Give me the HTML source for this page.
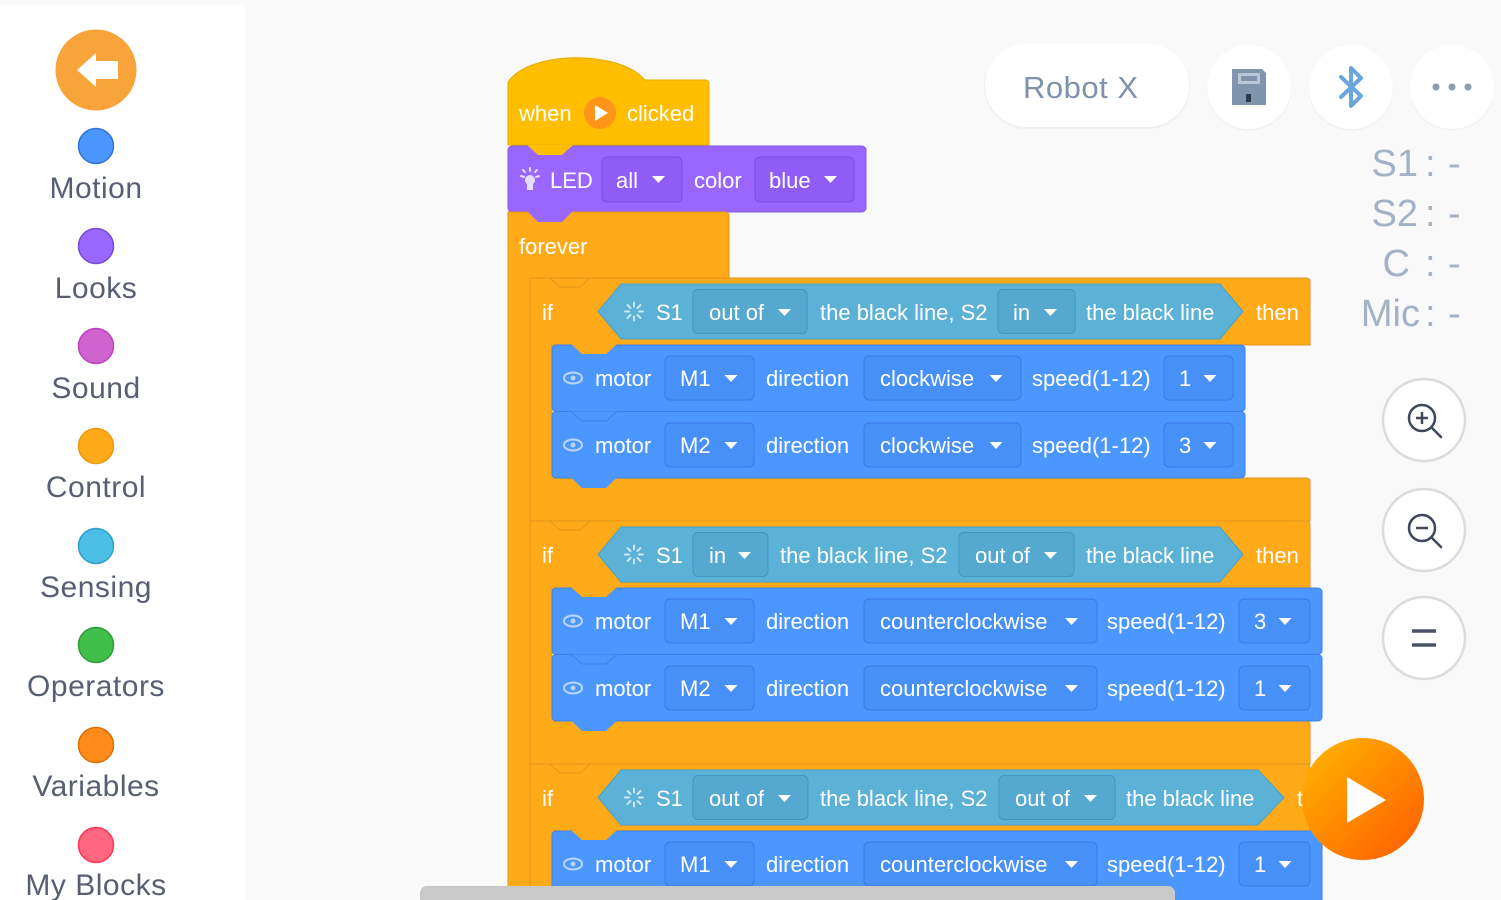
<!DOCTYPE html>
<html>
<head>
<meta charset="utf-8">
<style>
  html,body{margin:0;padding:0;background:#f9f9f9;}
  body{width:1501px;height:900px;overflow:hidden;position:relative;}
  svg{position:absolute;left:0;top:0;}
  .t{font-family:"Liberation Sans",Arial,sans-serif;font-size:22px;fill:#ffffff;}
  .side{font-family:"Liberation Sans",Arial,sans-serif;font-size:30px;fill:#585f72;letter-spacing:0.5px;}
  .stat{font-family:"Liberation Sans",Arial,sans-serif;font-size:38px;fill:#a3b2c4;}
</style>
</head>
<body>
<svg width="1501" height="900" viewBox="0 0 1501 900" xmlns="http://www.w3.org/2000/svg">
  <defs>
    <linearGradient id="pg" x1="0" y1="0" x2="1" y2="1">
      <stop offset="0" stop-color="#ffb800"/>
      <stop offset="1" stop-color="#ff5a00"/>
    </linearGradient>
  </defs>
  <!-- background -->
  <rect x="0" y="0" width="1501" height="900" fill="#f9f9f9"/>
  <!-- sidebar -->
  <rect x="0" y="5" width="245" height="895" fill="#ffffff"/>

  <!-- back button -->
  <circle cx="96" cy="70" r="40.5" fill="#f9a33b"/>
  <polygon points="77,70 96,53 96,87" fill="#ffffff"/>
  <rect x="94" y="61" width="24" height="18" fill="#ffffff"/>

  <!-- categories -->
  <circle cx="96" cy="146" r="17.5" fill="#4c97ff" stroke="#3373cc" stroke-width="1.5"/>
  <text class="side" x="96" y="198" text-anchor="middle">Motion</text>
  <circle cx="96" cy="246" r="17.5" fill="#9966ff" stroke="#774dcb" stroke-width="1.5"/>
  <text class="side" x="96" y="298" text-anchor="middle">Looks</text>
  <circle cx="96" cy="346" r="17.5" fill="#cf63cf" stroke="#bd42bd" stroke-width="1.5"/>
  <text class="side" x="96" y="398" text-anchor="middle">Sound</text>
  <circle cx="96" cy="446" r="17.5" fill="#ffab19" stroke="#e89a14" stroke-width="1.5"/>
  <text class="side" x="96" y="497" text-anchor="middle">Control</text>
  <circle cx="96" cy="546" r="17.5" fill="#4cbfe6" stroke="#2e9ec4" stroke-width="1.5"/>
  <text class="side" x="96" y="597" text-anchor="middle">Sensing</text>
  <circle cx="96" cy="645" r="17.5" fill="#40bf4a" stroke="#2f9a38" stroke-width="1.5"/>
  <text class="side" x="96" y="696" text-anchor="middle">Operators</text>
  <circle cx="96" cy="745" r="17.5" fill="#ff8c1a" stroke="#db6e00" stroke-width="1.5"/>
  <text class="side" x="96" y="796" text-anchor="middle">Variables</text>
  <circle cx="96" cy="845" r="17.5" fill="#ff6680" stroke="#ff3355" stroke-width="1.5"/>
  <text class="side" x="96" y="895" text-anchor="middle">My Blocks</text>

  <!-- ===== Hat block ===== -->
  <path d="M508,82 C530,50 620,50 645,80 L705,80 Q709,80 709,84 L709,145 L508,145 Z" fill="#ffbf00" stroke="#e6ab00" stroke-width="1"/>
  <text class="t" x="519" y="121">when</text>
  <circle cx="600" cy="113" r="16" fill="#ff9419"/>
  <polygon points="595,105 595,121 608,113" fill="#ffffff"/>
  <text class="t" x="627" y="121">clicked</text>

  <!-- ===== LED block ===== -->
  <rect x="508" y="146" width="358" height="66" rx="4" fill="#9966ff" stroke="#855cd6" stroke-width="1"/>
  <polygon points="527,145 538,155 562,155 573,145" fill="#ffbf00"/>
  <g stroke="#e8ddff" stroke-width="2" stroke-linecap="round">
    <line x1="530" y1="168" x2="530" y2="171"/>
    <line x1="521" y1="176" x2="524" y2="177"/>
    <line x1="539" y1="176" x2="536" y2="177"/>
    <line x1="523" y1="170" x2="525" y2="172"/>
    <line x1="537" y1="170" x2="535" y2="172"/>
  </g>
  <circle cx="530" cy="180" r="5" fill="#e8ddff"/>
  <rect x="527" y="184" width="6" height="6" fill="#e8ddff"/>
  <text class="t" x="550" y="188">LED</text>
  <rect x="602" y="157" width="80" height="45" rx="5" fill="#8f5cf7" stroke="#7a4fd9" stroke-width="1"/>
  <text class="t" x="616" y="188">all</text>
  <polygon points="652,176 665,176 658.5,183" fill="#ffffff"/>
  <text class="t" x="694" y="188">color</text>
  <rect x="755" y="157" width="99" height="45" rx="5" fill="#8f5cf7" stroke="#7a4fd9" stroke-width="1"/>
  <text class="t" x="769" y="188">blue</text>
  <polygon points="824,176 837,176 830.5,183" fill="#ffffff"/>

  <!-- ===== forever block ===== -->
  <path d="M508,212 H725 Q729,212 729,216 V278 H530 V910 H508 Z" fill="#ffab19" stroke="#e3951a" stroke-width="1"/>
  <polygon points="527,211 538,222 562,222 573,211" fill="#9966ff"/>
  <text class="t" x="519" y="254">forever</text>

  <!-- ===== if #1 ===== -->
  <path d="M530,278 H1306 Q1310,278 1310,282 V345 H552 V478 H1306 Q1310,478 1310,482 V521 H530 Z" fill="#ffab19" stroke="#e3951a" stroke-width="1"/>
  <polyline points="530,278 550,278 560,287 580,287 590,278" fill="none" stroke="#e3951a" stroke-width="1"/>
  <text class="t" x="542" y="320">if</text>
  <polygon points="598,311.5 621,284 1220,284 1243,311.5 1220,339 621,339" fill="#5cb1d6" stroke="#4a9fc6" stroke-width="1"/>
  <g transform="translate(634,311.5)" stroke="#cbe8f5" stroke-width="2" stroke-linecap="round">
    <line x1="0" y1="-9" x2="0" y2="-5"/><line x1="0" y1="9" x2="0" y2="5"/>
    <line x1="-9" y1="0" x2="-5" y2="0"/><line x1="9" y1="0" x2="5" y2="0"/>
    <line x1="-6.5" y1="-6.5" x2="-3.5" y2="-3.5"/><line x1="6.5" y1="6.5" x2="3.5" y2="3.5"/>
    <line x1="-6.5" y1="6.5" x2="-3.5" y2="3.5"/><line x1="6.5" y1="-6.5" x2="3.5" y2="-3.5"/>
  </g>
  <text class="t" x="656" y="320">S1</text>
  <rect x="693" y="289.5" width="114" height="44" rx="5" fill="#55a9d0" stroke="#3f96bf" stroke-width="1"/>
  <text class="t" x="709" y="320">out of</text>
  <polygon points="778,309 791,309 784.5,316" fill="#ffffff"/>
  <text class="t" x="820" y="320">the black line, S2</text>
  <rect x="998" y="289.5" width="77" height="44" rx="5" fill="#55a9d0" stroke="#3f96bf" stroke-width="1"/>
  <text class="t" x="1013" y="320">in</text>
  <polygon points="1044,309 1057,309 1050.5,316" fill="#ffffff"/>
  <text class="t" x="1086" y="320">the black line</text>
  <text class="t" x="1256" y="320">then</text>

  <!-- motors if#1 -->
  <rect x="552" y="345" width="693" height="66.5" rx="4" fill="#4c97ff" stroke="#3d80e6" stroke-width="1"/>
  <rect x="552" y="411.5" width="693" height="66.5" rx="4" fill="#4c97ff" stroke="#3d80e6" stroke-width="1"/>
  <polygon points="571,344 582,354 606,354 617,344" fill="#ffab19"/>
  <polyline points="571,411.5 582,421 606,421 617,411.5" fill="#4c97ff" stroke="#3d80e6" stroke-width="1"/>
  <polygon points="571,477.5 582,488 606,488 617,477.5" fill="#4c97ff"/>

  <!-- ===== if #2 ===== -->
  <path d="M530,521 H1306 Q1310,521 1310,525 V588 H552 V721 H1306 Q1310,721 1310,725 V764 H530 Z" fill="#ffab19" stroke="#e3951a" stroke-width="1"/>
  <polyline points="530,521 550,521 560,530 580,530 590,521" fill="none" stroke="#e3951a" stroke-width="1"/>
  <text class="t" x="542" y="563">if</text>
  <polygon points="598,554.5 621,527 1220,527 1243,554.5 1220,582 621,582" fill="#5cb1d6" stroke="#4a9fc6" stroke-width="1"/>
  <g transform="translate(634,554.5)" stroke="#cbe8f5" stroke-width="2" stroke-linecap="round">
    <line x1="0" y1="-9" x2="0" y2="-5"/><line x1="0" y1="9" x2="0" y2="5"/>
    <line x1="-9" y1="0" x2="-5" y2="0"/><line x1="9" y1="0" x2="5" y2="0"/>
    <line x1="-6.5" y1="-6.5" x2="-3.5" y2="-3.5"/><line x1="6.5" y1="6.5" x2="3.5" y2="3.5"/>
    <line x1="-6.5" y1="6.5" x2="-3.5" y2="3.5"/><line x1="6.5" y1="-6.5" x2="3.5" y2="-3.5"/>
  </g>
  <text class="t" x="656" y="563">S1</text>
  <rect x="693" y="532.5" width="75" height="44" rx="5" fill="#55a9d0" stroke="#3f96bf" stroke-width="1"/>
  <text class="t" x="709" y="563">in</text>
  <polygon points="738,552 751,552 744.5,559" fill="#ffffff"/>
  <text class="t" x="780" y="563">the black line, S2</text>
  <rect x="959" y="532.5" width="115" height="44" rx="5" fill="#55a9d0" stroke="#3f96bf" stroke-width="1"/>
  <text class="t" x="975" y="563">out of</text>
  <polygon points="1044,552 1057,552 1050.5,559" fill="#ffffff"/>
  <text class="t" x="1086" y="563">the black line</text>
  <text class="t" x="1256" y="563">then</text>

  <!-- motors if#2 -->
  <rect x="552" y="588" width="770" height="66.5" rx="4" fill="#4c97ff" stroke="#3d80e6" stroke-width="1"/>
  <rect x="552" y="654.5" width="770" height="66.5" rx="4" fill="#4c97ff" stroke="#3d80e6" stroke-width="1"/>
  <polygon points="571,587 582,597 606,597 617,587" fill="#ffab19"/>
  <polyline points="571,654.5 582,664 606,664 617,654.5" fill="#4c97ff" stroke="#3d80e6" stroke-width="1"/>
  <polygon points="571,720.5 582,731 606,731 617,720.5" fill="#4c97ff"/>

  <!-- ===== if #3 ===== -->
  <path d="M530,764 H1306 Q1310,764 1310,768 V831 H552 V910 H530 Z" fill="#ffab19" stroke="#e3951a" stroke-width="1"/>
  <polyline points="530,764 550,764 560,773 580,773 590,764" fill="none" stroke="#e3951a" stroke-width="1"/>
  <text class="t" x="542" y="806">if</text>
  <polygon points="598,797.5 621,770 1258,770 1284,797.5 1258,825 621,825" fill="#5cb1d6" stroke="#4a9fc6" stroke-width="1"/>
  <g transform="translate(634,797.5)" stroke="#cbe8f5" stroke-width="2" stroke-linecap="round">
    <line x1="0" y1="-9" x2="0" y2="-5"/><line x1="0" y1="9" x2="0" y2="5"/>
    <line x1="-9" y1="0" x2="-5" y2="0"/><line x1="9" y1="0" x2="5" y2="0"/>
    <line x1="-6.5" y1="-6.5" x2="-3.5" y2="-3.5"/><line x1="6.5" y1="6.5" x2="3.5" y2="3.5"/>
    <line x1="-6.5" y1="6.5" x2="-3.5" y2="3.5"/><line x1="6.5" y1="-6.5" x2="3.5" y2="-3.5"/>
  </g>
  <text class="t" x="656" y="806">S1</text>
  <rect x="693" y="775.5" width="115" height="44" rx="5" fill="#55a9d0" stroke="#3f96bf" stroke-width="1"/>
  <text class="t" x="709" y="806">out of</text>
  <polygon points="778,795 791,795 784.5,802" fill="#ffffff"/>
  <text class="t" x="820" y="806">the black line, S2</text>
  <rect x="999" y="775.5" width="116" height="44" rx="5" fill="#55a9d0" stroke="#3f96bf" stroke-width="1"/>
  <text class="t" x="1015" y="806">out of</text>
  <polygon points="1084,795 1097,795 1090.5,802" fill="#ffffff"/>
  <text class="t" x="1126" y="806">the black line</text>
  <text class="t" x="1297" y="806">then</text>

  <!-- motor if#3 -->
  <rect x="552" y="831" width="770" height="80" rx="4" fill="#4c97ff" stroke="#3d80e6" stroke-width="1"/>
  <polygon points="571,830 582,840 606,840 617,830" fill="#ffab19"/>

  <!-- ===== motor row contents ===== -->
  <!-- row 1: cy 378 -->
  <g>
    <ellipse cx="573" cy="378" rx="9" ry="5.5" fill="none" stroke="#bcd6fb" stroke-width="2"/>
    <circle cx="573" cy="378" r="2.5" fill="#bcd6fb"/>
    <text class="t" x="595" y="386">motor</text>
    <rect x="665" y="356" width="89" height="44" rx="5" fill="#4790f8" stroke="#3a7be0" stroke-width="1"/>
    <text class="t" x="680" y="386">M1</text>
    <polygon points="724.5,375 737.5,375 731,382" fill="#ffffff"/>
    <text class="t" x="766" y="386">direction</text>
    <rect x="864" y="356" width="157" height="44" rx="5" fill="#4790f8" stroke="#3a7be0" stroke-width="1"/>
    <text class="t" x="880" y="386">clockwise</text>
    <polygon points="989.5,375 1002.5,375 996,382" fill="#ffffff"/>
    <text class="t" x="1032" y="386">speed(1-12)</text>
    <rect x="1164" y="356" width="69" height="44" rx="5" fill="#4790f8" stroke="#3a7be0" stroke-width="1"/>
    <text class="t" x="1179" y="386">1</text>
    <polygon points="1203.5,375 1216.5,375 1210,382" fill="#ffffff"/>
  </g>
  <!-- row 2: cy 445 -->
  <g>
    <ellipse cx="573" cy="445" rx="9" ry="5.5" fill="none" stroke="#bcd6fb" stroke-width="2"/>
    <circle cx="573" cy="445" r="2.5" fill="#bcd6fb"/>
    <text class="t" x="595" y="453">motor</text>
    <rect x="665" y="423" width="89" height="44" rx="5" fill="#4790f8" stroke="#3a7be0" stroke-width="1"/>
    <text class="t" x="680" y="453">M2</text>
    <polygon points="724.5,442 737.5,442 731,449" fill="#ffffff"/>
    <text class="t" x="766" y="453">direction</text>
    <rect x="864" y="423" width="157" height="44" rx="5" fill="#4790f8" stroke="#3a7be0" stroke-width="1"/>
    <text class="t" x="880" y="453">clockwise</text>
    <polygon points="989.5,442 1002.5,442 996,449" fill="#ffffff"/>
    <text class="t" x="1032" y="453">speed(1-12)</text>
    <rect x="1164" y="423" width="69" height="44" rx="5" fill="#4790f8" stroke="#3a7be0" stroke-width="1"/>
    <text class="t" x="1179" y="453">3</text>
    <polygon points="1203.5,442 1216.5,442 1210,449" fill="#ffffff"/>
  </g>
  <!-- row 3: cy 621 -->
  <g>
    <ellipse cx="573" cy="621" rx="9" ry="5.5" fill="none" stroke="#bcd6fb" stroke-width="2"/>
    <circle cx="573" cy="621" r="2.5" fill="#bcd6fb"/>
    <text class="t" x="595" y="629">motor</text>
    <rect x="665" y="599" width="89" height="44" rx="5" fill="#4790f8" stroke="#3a7be0" stroke-width="1"/>
    <text class="t" x="680" y="629">M1</text>
    <polygon points="724.5,618 737.5,618 731,625" fill="#ffffff"/>
    <text class="t" x="766" y="629">direction</text>
    <rect x="864" y="599" width="233" height="44" rx="5" fill="#4790f8" stroke="#3a7be0" stroke-width="1"/>
    <text class="t" x="880" y="629">counterclockwise</text>
    <polygon points="1065,618 1078,618 1071.5,625" fill="#ffffff"/>
    <text class="t" x="1107" y="629">speed(1-12)</text>
    <rect x="1239" y="599" width="71" height="44" rx="5" fill="#4790f8" stroke="#3a7be0" stroke-width="1"/>
    <text class="t" x="1254" y="629">3</text>
    <polygon points="1278.5,618 1291.5,618 1285,625" fill="#ffffff"/>
  </g>
  <!-- row 4: cy 688 -->
  <g>
    <ellipse cx="573" cy="688" rx="9" ry="5.5" fill="none" stroke="#bcd6fb" stroke-width="2"/>
    <circle cx="573" cy="688" r="2.5" fill="#bcd6fb"/>
    <text class="t" x="595" y="696">motor</text>
    <rect x="665" y="666" width="89" height="44" rx="5" fill="#4790f8" stroke="#3a7be0" stroke-width="1"/>
    <text class="t" x="680" y="696">M2</text>
    <polygon points="724.5,685 737.5,685 731,692" fill="#ffffff"/>
    <text class="t" x="766" y="696">direction</text>
    <rect x="864" y="666" width="233" height="44" rx="5" fill="#4790f8" stroke="#3a7be0" stroke-width="1"/>
    <text class="t" x="880" y="696">counterclockwise</text>
    <polygon points="1065,685 1078,685 1071.5,692" fill="#ffffff"/>
    <text class="t" x="1107" y="696">speed(1-12)</text>
    <rect x="1239" y="666" width="71" height="44" rx="5" fill="#4790f8" stroke="#3a7be0" stroke-width="1"/>
    <text class="t" x="1254" y="696">1</text>
    <polygon points="1278.5,685 1291.5,685 1285,692" fill="#ffffff"/>
  </g>
  <!-- row 5: cy 864 -->
  <g>
    <ellipse cx="573" cy="864" rx="9" ry="5.5" fill="none" stroke="#bcd6fb" stroke-width="2"/>
    <circle cx="573" cy="864" r="2.5" fill="#bcd6fb"/>
    <text class="t" x="595" y="872">motor</text>
    <rect x="665" y="842" width="89" height="44" rx="5" fill="#4790f8" stroke="#3a7be0" stroke-width="1"/>
    <text class="t" x="680" y="872">M1</text>
    <polygon points="724.5,861 737.5,861 731,868" fill="#ffffff"/>
    <text class="t" x="766" y="872">direction</text>
    <rect x="864" y="842" width="233" height="44" rx="5" fill="#4790f8" stroke="#3a7be0" stroke-width="1"/>
    <text class="t" x="880" y="872">counterclockwise</text>
    <polygon points="1065,861 1078,861 1071.5,868" fill="#ffffff"/>
    <text class="t" x="1107" y="872">speed(1-12)</text>
    <rect x="1239" y="842" width="71" height="44" rx="5" fill="#4790f8" stroke="#3a7be0" stroke-width="1"/>
    <text class="t" x="1254" y="872">1</text>
    <polygon points="1278.5,861 1291.5,861 1285,868" fill="#ffffff"/>
  </g>

  <!-- scrollbar -->
  <rect x="420" y="886" width="755" height="20" rx="7" fill="#c9c9c9"/>

  <!-- ===== top right controls ===== -->
  <rect x="984" y="45" width="206" height="84" rx="42" fill="#f1f1f1"/>
  <rect x="985" y="44" width="204" height="83" rx="41.5" fill="#ffffff"/>
  <text x="1023" y="98" font-family="Liberation Sans, Arial, sans-serif" font-size="31" fill="#7f92a9" letter-spacing="0.5">Robot X</text>

  <circle cx="1249" cy="88" r="42.5" fill="#f1f1f1"/>
  <circle cx="1249" cy="87" r="42" fill="#ffffff"/>
  <path d="M1232,69 H1262 L1266,73 V105 H1232 Z" fill="#7f95ae"/>
  <rect x="1238" y="73" width="22" height="11" fill="#b8c6d6"/>
  <rect x="1241" y="76" width="16" height="5" fill="#7f95ae"/>
  <rect x="1246" y="94" width="5" height="8" fill="#2e3a4a"/>

  <circle cx="1351" cy="88" r="42.5" fill="#f1f1f1"/>
  <circle cx="1351" cy="87" r="42" fill="#ffffff"/>
  <path d="M1341,77 L1361,96 L1351,106 V68 L1361,78 L1341,97" fill="none" stroke="#6aa6dc" stroke-width="4" stroke-linejoin="round" stroke-linecap="round"/>

  <circle cx="1452" cy="88" r="42.5" fill="#f1f1f1"/>
  <circle cx="1452" cy="87" r="42" fill="#ffffff"/>
  <circle cx="1436" cy="87" r="3.5" fill="#8a9bb0"/>
  <circle cx="1452" cy="87" r="3.5" fill="#8a9bb0"/>
  <circle cx="1468" cy="87" r="3.5" fill="#8a9bb0"/>

  <!-- sensor readouts -->
  <text class="stat" x="1418" y="176" text-anchor="end">S1</text>
  <text class="stat" x="1425" y="176">:</text>
  <text class="stat" x="1448" y="176">-</text>
  <text class="stat" x="1418" y="226" text-anchor="end">S2</text>
  <text class="stat" x="1425" y="226">:</text>
  <text class="stat" x="1448" y="226">-</text>
  <text class="stat" x="1410" y="276" text-anchor="end">C</text>
  <text class="stat" x="1425" y="276">:</text>
  <text class="stat" x="1448" y="276">-</text>
  <text class="stat" x="1420" y="326" text-anchor="end">Mic</text>
  <text class="stat" x="1425" y="326">:</text>
  <text class="stat" x="1448" y="326">-</text>

  <!-- zoom buttons -->
  <circle cx="1424" cy="420" r="41" fill="#ffffff" stroke="#dcdcdc" stroke-width="2.5"/>
  <circle cx="1422" cy="418" r="13" fill="none" stroke="#3e4a5c" stroke-width="2.5"/>
  <line x1="1431.5" y1="427.5" x2="1441" y2="437" stroke="#3e4a5c" stroke-width="2.5" stroke-linecap="round"/>
  <line x1="1416" y1="418" x2="1428" y2="418" stroke="#3e4a5c" stroke-width="2.5"/>
  <line x1="1422" y1="412" x2="1422" y2="424" stroke="#3e4a5c" stroke-width="2.5"/>

  <circle cx="1424" cy="530" r="41" fill="#ffffff" stroke="#dcdcdc" stroke-width="2.5"/>
  <circle cx="1422" cy="528" r="13" fill="none" stroke="#3e4a5c" stroke-width="2.5"/>
  <line x1="1431.5" y1="537.5" x2="1441" y2="547" stroke="#3e4a5c" stroke-width="2.5" stroke-linecap="round"/>
  <line x1="1416" y1="528" x2="1428" y2="528" stroke="#3e4a5c" stroke-width="2.5"/>

  <circle cx="1424" cy="638" r="41" fill="#ffffff" stroke="#dcdcdc" stroke-width="2.5"/>
  <line x1="1412" y1="631" x2="1436" y2="631" stroke="#4a5568" stroke-width="3.5"/>
  <line x1="1412" y1="645" x2="1436" y2="645" stroke="#4a5568" stroke-width="3.5"/>

  <!-- play button -->
  <circle cx="1363" cy="799" r="61" fill="url(#pg)"/>
  <polygon points="1347,777 1347,823 1386,800" fill="#ffffff"/>
</svg>
</body>
</html>
